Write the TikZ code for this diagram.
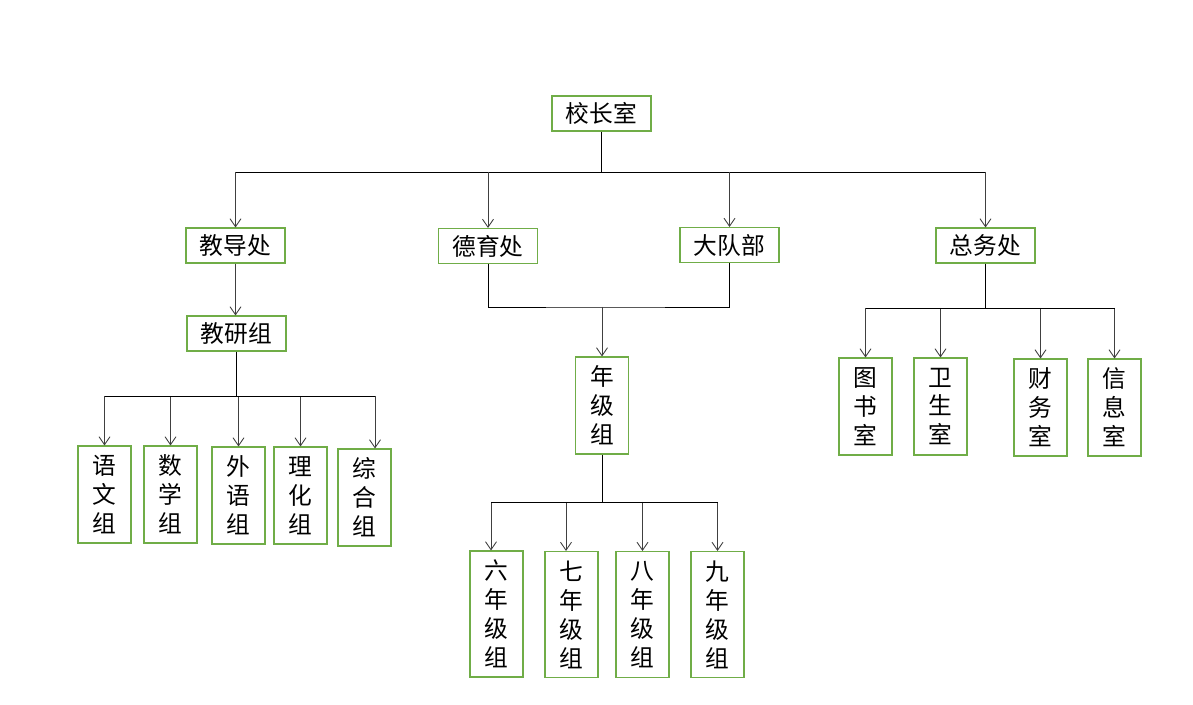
\documentclass[tikz,border=0pt]{standalone}
\usepackage{fontspec}
\newfontfamily\cjk{Noto Sans CJK SC}
\usetikzlibrary{arrows.meta}
\definecolor{boxgreen}{RGB}{112,173,71}
\definecolor{arrgray}{RGB}{64,64,64}
\tikzset{
  hbox/.style={draw=boxgreen,line width=0.6pt,minimum width=1.98cm,minimum height=0.7cm,
    inner sep=0pt,font=\cjk\fontsize{13.5}{16.5}\selectfont},
  vbox/.style={hbox,minimum width=1.06cm,minimum height=1.94cm,align=center},
  tbox/.style={vbox,minimum height=2.52cm},
  link/.style={line width=0.5pt},
  arr/.style={link,draw=arrgray,-{Straight Barb[length=0.16cm,width=0.22cm]}}
}

\begin{document}
\begin{tikzpicture}[x=0.02cm,y=-0.02cm]
            \useasboundingbox (0,0) rectangle (1193,705);
            % first and second level
            \node[hbox] (xzs) at (601.5,113.5) {校长室};
            \node[hbox] (jdc) at (235.5,245.5) {教导处};
            \node[hbox] (dyc) at (488,246) {德育处};
            \node[hbox] (ddb) at (729.5,245) {大队部};
            \node[hbox] (zwc) at (985.5,245.5) {总务处};
            \node[hbox] (jyz) at (236.5,333.5) {教研组};
            \node[vbox] (njz) at (602,405.5) {年\\级\\组};
            \coordinate (topbus) at (601.5,172);
            \coordinate (jybus) at (236.5,396);
            \coordinate (mbus) at (602,307);
            \coordinate (njbus) at (602,502);
            \coordinate (zwbus) at (985.5,308);
            \draw[link] (xzs.south) -- (topbus);
            \draw[link] (topbus -| jdc.north) -- (topbus -| zwc.north);
            \foreach \n in {jdc,dyc,ddb,zwc}
                \draw[arr] (topbus -| \n.north) -- (\n.north);
            \draw[arr] (jdc.south) -- (jdc.south |- jyz.north);
            % subject groups
            \foreach \n/\a/\b/\c/\x/\y/\d in {yw/语/文/组/104.5/494.5/0,sx/数/学/组/170.5/494.5/0,
                    wy/外/语/组/238.5/495.5/0,lh/理/化/组/300.5/495.5/0,zh/综/合/组/364.5/497.5/10.5}{
                \node[vbox] (\n) at (\x,\y) {\a\\\b\\\c};
                \coordinate (\n-in) at ([xshift=\d*0.02cm]\n.north);
                \draw[arr] (jybus -| \n-in) -- (\n-in);
            }
            \draw[link] (jyz.south) -- (jybus);
            \draw[link] (jybus -| yw-in) -- (jybus -| zh-in);
            % grade groups
            \draw[link] (dyc.south) |- (mbus) -| (ddb.south);
            \draw[arr] (mbus) -- (njz.north);
            \foreach \n/\a/\x/\y/\d in {g6/六/496.5/614/-5.5,g7/七/571.5/614.5/-5.5,
                    g8/八/642.5/614.5/0,g9/九/717.5/614.5/0}{
                \node[tbox] (\n) at (\x,\y) {\a\\年\\级\\组};
                \coordinate (\n-in) at ([xshift=\d*0.02cm]\n.north);
                \draw[arr] (njbus -| \n-in) -- (\n-in);
            }
            \draw[link] (njz.south) -- (njbus);
            \draw[link] (njbus -| g6-in) -- (njbus -| g9-in);
            % offices
            \foreach \n/\a/\b/\x/\y in {tss/图/书/865.5/406.5,wss/卫/生/940.5/406.5,
                    cws/财/务/1040.5/407.5,xxs/信/息/1114.5/407.5}{
                \node[vbox] (\n) at (\x,\y) {\a\\\b\\室};
                \draw[arr] (zwbus -| \n.north) -- (\n.north);
            }
            \draw[link] (zwc.south) -- (zwbus);
            \draw[link] (zwbus -| tss.north) -- (zwbus -| xxs.north);
        \end{tikzpicture}
\end{document}
